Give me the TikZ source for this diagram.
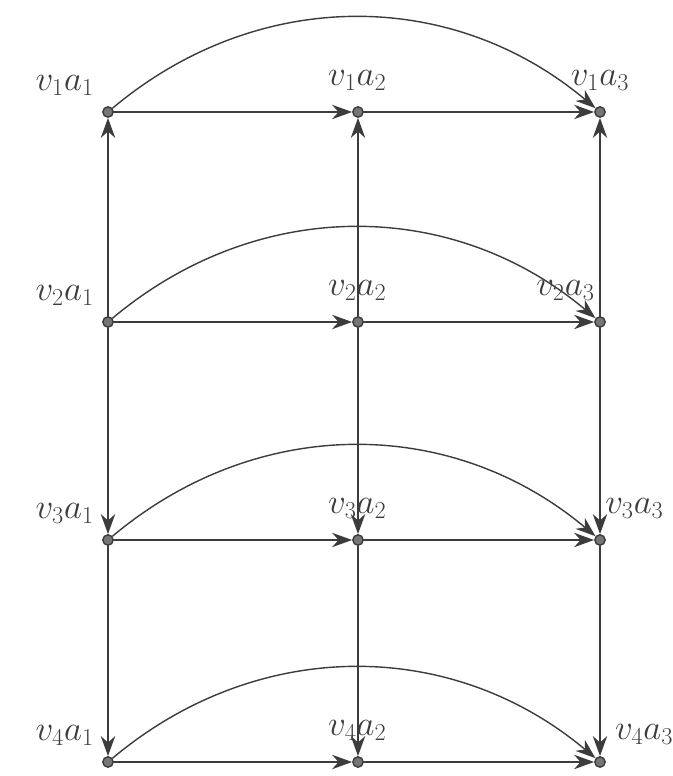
\documentclass[tikz,border=0pt]{standalone}
\usepackage{amsmath}
\usetikzlibrary{arrows.meta}
\definecolor{pencil}{RGB}{60,60,60}
\tikzset{
  gdot/.style ={circle, draw=pencil, fill=pencil!70, line width=1pt,
                minimum size=2.6mm, inner sep=0pt},
  glbl/.style ={font=\fontsize{24}{28}\selectfont, text=pencil, inner sep=2pt},
  gdir/.style ={-{Stealth[length=5mm, width=3.6mm, inset=1.6mm]}, line width=1pt, pencil, line cap=round},
  garc/.style ={gdir, bend left=40},
}

\begin{document}
\begin{tikzpicture}
  \useasboundingbox (0,0) rectangle (16.8,19.4);
  % grid of vertices v_r a_c
  \foreach \r/\y in {1/16.6,2/11.35,3/5.9,4/0.35} {
    \node[gdot, label={[glbl, label distance=8pt]130:$v_{\r}a_1$}] (v\r a1) at (2.7,\y) {};
    \node[gdot, label={[glbl, label distance=9pt]92:$v_{\r}a_2$}]  (v\r a2) at (8.95,\y) {};
  }
  \foreach \r/\y/\ang in {1/16.6/90,2/11.35/97,3/5.9/83,4/0.35/50} {
    \node[gdot, label={[glbl, label distance=9pt]\ang:$v_{\r}a_3$}] (v\r a3) at (15.0,\y) {};
  }
  % rows
  \foreach \r in {1,...,4} {
    \draw[gdir] (v\r a1) -- (v\r a2);
    \draw[gdir] (v\r a2) -- (v\r a3);
    \draw[garc] (v\r a1) to (v\r a3);
  }
  % columns
  \foreach \c in {1,2,3} {
    \draw[gdir] (v2a\c) -- (v1a\c);
    \draw[gdir] (v2a\c) -- (v3a\c);
    \draw[gdir] (v3a\c) -- (v4a\c);
  }
\end{tikzpicture}
\end{document}
